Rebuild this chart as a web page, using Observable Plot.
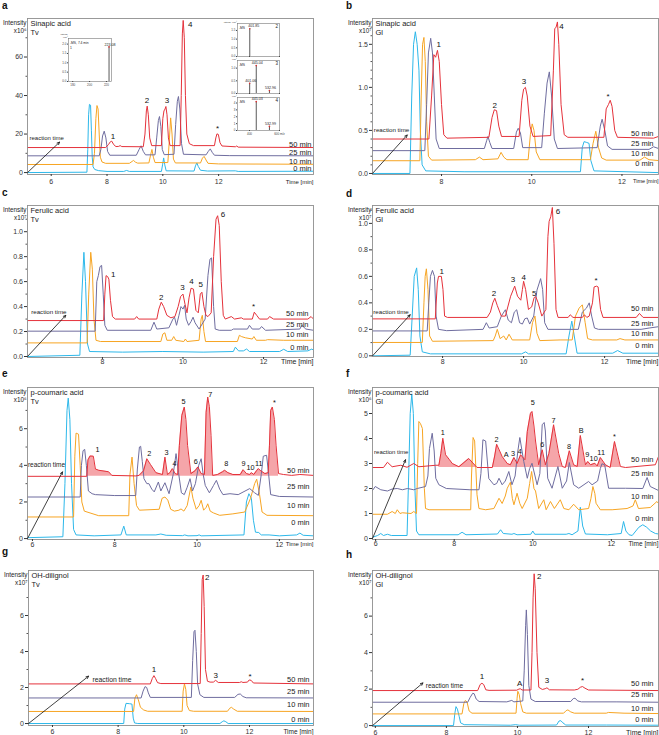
<!DOCTYPE html>
<html><head><meta charset="utf-8">
<script src="https://cdn.jsdelivr.net/npm/d3@7"></script>
<script src="https://cdn.jsdelivr.net/npm/@observablehq/plot@0.6"></script>
<style>
body{margin:0;background:#fff;}
#root{position:relative;width:659px;height:735px;overflow:hidden;font-family:"Liberation Sans",Arial,Helvetica,sans-serif;background:#fff;}
#root svg{position:absolute;}
.lt{position:absolute;font-weight:bold;font-size:10px;line-height:10px;color:#111;}
</style></head><body><div id="root"></div>
<script>
// ---------- DATA (time [min], intensity) flat pairs ----------
// Panel a: Sinapic acid, Tv (x10^6)
const aCyan = [5.15,0, 7.28,0.2, 7.31,12, 7.34,30, 7.37,35.4, 7.41,35, 7.44,22, 7.47,8, 7.5,3, 7.56,1.6, 7.7,1, 8.0,0.6, 8.6,0.6, 8.7,1.1, 8.8,0.6, 9.95,0.6, 9.99,4, 10.03,7.6, 10.07,4, 10.12,0.9, 11.12,0.8, 11.17,3.5, 11.22,5.0, 11.27,3.2, 11.35,1.2, 11.6,0.8, 12.6,0.9, 12.7,0.6, 15.4,0.7];
const aOrange = [5.15,4.2, 7.5,4.2, 7.55,10, 7.6,28, 7.64,34.8, 7.68,33, 7.72,20, 7.76,8, 7.82,5.5, 7.95,4.8, 8.8,4.8, 8.9,5.8, 8.95,6.3, 9.02,5.4, 9.1,4.9, 9.5,5, 9.56,9, 9.61,12, 9.66,8, 9.72,5.2, 10.18,5.2, 10.23,16, 10.28,28.4, 10.33,20, 10.38,7, 10.45,5, 11.35,5, 11.42,7.5, 11.48,8.4, 11.55,6.5, 11.62,4.8, 12.0,4.5, 15.4,4.3];
const aPurple = [5.15,8.7, 7.72,8.7, 7.78,12, 7.84,19, 7.9,21.5, 7.96,18, 8.02,11, 8.1,9, 9.05,9, 9.15,12, 9.22,13.9, 9.3,11, 9.38,9.2, 9.72,9.2, 9.78,18, 9.84,27, 9.88,29.1, 9.93,24, 9.98,12, 10.05,9.3, 10.4,9.5, 10.46,25, 10.52,37, 10.56,39.5, 10.61,33, 10.67,15, 10.74,9.5, 11.55,9.2, 11.63,11, 11.7,12.3, 11.77,10.5, 11.85,9, 12.4,8.8, 15.4,8.7];
const aRed = [5.15,13, 7.95,13, 8.05,14.5, 8.12,16, 8.17,16.3, 8.24,14.5, 8.32,13.5, 8.42,13.6, 8.47,14, 8.53,13.5, 9.3,13.4, 9.36,20, 9.41,32, 9.44,34.5, 9.48,30, 9.53,18, 9.6,14, 9.95,14, 10.0,28, 10.04,32, 10.08,33, 10.11,34.3, 10.15,30, 10.2,18, 10.26,14, 10.62,14, 10.66,40, 10.7,72, 10.73,79, 10.77,70, 10.81,40, 10.86,20, 10.95,15, 11.1,14, 11.85,14, 11.9,18, 11.94,20.1, 11.99,19.8, 12.05,15.5, 12.12,13.8, 12.6,13.4, 12.65,13.8, 12.7,13.2, 15.4,13];
const aPeaks = [["1",8.21,18.7],["2",9.43,37.4],["3",10.15,37.4],["4",10.98,77],["*",11.96,22.7]];
const aLabelY = [14.4, 10.2, 5.9, 1.9];

// Panel b: Sinapic acid, Gl (x10^7)
const bCyan = [6.47,0, 7.3,0, 7.34,0.9, 7.38,1.5, 7.42,1.646, 7.46,1.5, 7.5,1.2, 7.53,0.5, 7.57,0.1, 7.65,0.03, 8.5,0.02, 11.08,0.02, 11.12,0.3, 11.16,0.37, 11.22,0.36, 11.27,0.35, 11.31,0.15, 11.38,0.03, 12.81,0.01];
const bOrange = [6.47,0.148, 7.52,0.148, 7.55,0.9, 7.58,1.5, 7.61,1.58, 7.64,1.3, 7.67,0.6, 7.71,0.2, 7.78,0.155, 8.75,0.16, 8.84,0.19, 8.92,0.16, 9.25,0.17, 9.32,0.245, 9.38,0.19, 9.45,0.16, 9.92,0.16, 9.97,0.45, 10.01,0.576, 10.05,0.5, 10.1,0.25, 10.18,0.16, 11.3,0.16, 11.36,0.35, 11.42,0.49, 11.48,0.3, 11.55,0.18, 11.65,0.155, 12.4,0.155, 12.5,0.19, 12.6,0.16, 12.81,0.15];
const bPurple = [6.47,0.265, 7.63,0.265, 7.67,0.8, 7.71,1.4, 7.76,1.57, 7.8,1.4, 7.84,0.9, 7.88,0.4, 7.95,0.29, 8.95,0.29, 9.0,0.38, 9.03,0.43, 9.07,0.36, 9.12,0.29, 9.6,0.29, 9.66,0.48, 9.7,0.525, 9.75,0.47, 9.8,0.3, 10.22,0.3, 10.28,0.7, 10.34,1.05, 10.39,1.18, 10.44,0.9, 10.5,0.4, 10.57,0.29, 11.45,0.3, 11.52,0.55, 11.56,0.63, 11.62,0.5, 11.68,0.32, 11.78,0.28, 12.6,0.28, 12.7,0.31, 12.81,0.29];
const bRed = [6.47,0.4, 7.72,0.4, 7.78,0.9, 7.83,1.38, 7.87,1.35, 7.91,1.43, 7.95,1.3, 8.0,0.8, 8.05,0.45, 8.12,0.41, 9.05,0.42, 9.12,0.65, 9.17,0.74, 9.22,0.73, 9.27,0.55, 9.33,0.43, 9.72,0.43, 9.78,0.85, 9.82,0.98, 9.86,1.0, 9.9,0.9, 9.96,0.55, 10.03,0.43, 10.42,0.44, 10.48,1.2, 10.51,1.68, 10.54,1.7, 10.57,1.76, 10.6,1.5, 10.65,0.8, 10.72,0.45, 10.8,0.42, 11.6,0.42, 11.65,0.75, 11.7,0.8, 11.74,0.85, 11.78,0.78, 11.84,0.5, 11.9,0.42, 12.7,0.41, 12.81,0.43];
const bPeaks = [["1",7.94,1.5],["2",9.18,0.79],["3",9.83,1.07],["4",10.66,1.71],["*",11.69,0.89]];
const bLabelY = [0.467, 0.342, 0.233, 0.109];

// Panel c: Ferulic acid, Tv (x10^7)
const cCyan = [6.14,0, 7.44,0.01, 7.49,0.5, 7.54,0.835, 7.58,0.6, 7.63,0.1, 7.68,0.04, 8.5,0.035, 9.5,0.04, 10.5,0.035, 11.25,0.04, 11.3,0.075, 11.38,0.045, 11.5,0.045, 11.58,0.06, 11.65,0.04, 12.4,0.04, 12.5,0.058, 12.6,0.04, 13.1,0.045, 13.2,0.06, 13.24,0.05];
const cOrange = [6.14,0.109, 7.62,0.109, 7.66,0.5, 7.71,0.835, 7.75,0.7, 7.79,0.3, 7.84,0.13, 7.95,0.12, 9.45,0.12, 9.5,0.18, 9.55,0.19, 9.6,0.13, 9.72,0.13, 9.77,0.16, 9.82,0.13, 10.02,0.12, 10.06,0.14, 10.1,0.12, 10.4,0.13, 10.45,0.3, 10.48,0.33, 10.52,0.2, 10.56,0.12, 11.35,0.12, 11.4,0.17, 11.45,0.16, 11.55,0.15, 11.72,0.14, 11.76,0.16, 11.82,0.13, 12.05,0.13, 12.1,0.135, 12.5,0.13, 12.7,0.13, 13.24,0.13];
const cPurple = [6.14,0.203, 7.82,0.203, 7.86,0.6, 7.9,0.65, 7.94,0.72, 7.98,0.73, 8.02,0.5, 8.06,0.25, 8.12,0.21, 9.2,0.21, 9.28,0.275, 9.35,0.22, 9.65,0.23, 9.75,0.3, 9.79,0.315, 9.84,0.25, 9.9,0.33, 9.95,0.4, 10.0,0.38, 10.04,0.41, 10.08,0.3, 10.14,0.25, 10.2,0.28, 10.25,0.315, 10.3,0.27, 10.4,0.22, 10.55,0.3, 10.62,0.65, 10.67,0.78, 10.71,0.79, 10.76,0.4, 10.8,0.22, 10.9,0.21, 11.2,0.21, 11.25,0.22, 11.6,0.22, 11.65,0.25, 11.72,0.22, 11.9,0.22, 11.95,0.24, 12.05,0.21, 12.9,0.22, 12.95,0.25, 13.05,0.22, 13.24,0.21];
const cRed = [6.14,0.288, 8.03,0.288, 8.06,0.5, 8.09,0.648, 8.13,0.64, 8.16,0.62, 8.2,0.45, 8.25,0.32, 8.32,0.3, 8.8,0.3, 8.85,0.32, 8.9,0.3, 9.35,0.3, 9.4,0.38, 9.46,0.435, 9.52,0.4, 9.6,0.33, 9.7,0.31, 9.8,0.32, 9.88,0.4, 9.94,0.48, 10.0,0.5, 10.05,0.42, 10.1,0.35, 10.15,0.47, 10.2,0.547, 10.26,0.54, 10.32,0.37, 10.38,0.35, 10.43,0.5, 10.47,0.515, 10.52,0.4, 10.57,0.33, 10.62,0.32, 10.7,0.35, 10.76,0.8, 10.82,1.1, 10.86,1.128, 10.9,1.05, 10.95,0.6, 11.0,0.33, 11.05,0.3, 11.2,0.32, 11.28,0.3, 11.45,0.31, 11.5,0.3, 11.72,0.3, 11.77,0.355, 11.83,0.33, 11.9,0.3, 12.1,0.3, 12.15,0.32, 12.25,0.3, 13.1,0.3, 13.18,0.32, 13.24,0.3];
const cPeaks = [["1",8.27,0.656],["2",9.46,0.475],["3",9.99,0.55],["4",10.21,0.6],["5",10.44,0.576],["6",10.99,1.14],["*",11.75,0.4]];
const cLabelY = [0.347, 0.256, 0.176, 0.075];

// Panel d: Ferulic acid, Gl (x10^7)
const dCyan = [6.27,0, 7.2,0.005, 7.25,0.3, 7.3,0.6, 7.36,0.664, 7.4,0.5, 7.44,0.15, 7.5,0.03, 7.7,0.015, 9.95,0.015, 10.05,0.03, 10.12,0.015, 11.05,0.015, 11.12,0.15, 11.19,0.262, 11.25,0.15, 11.32,0.02, 12.2,0.02, 12.32,0.04, 12.45,0.02, 13.33,0.02];
const dOrange = [6.27,0.101, 7.5,0.101, 7.54,0.4, 7.57,0.6, 7.6,0.657, 7.64,0.5, 7.68,0.15, 7.75,0.11, 9.25,0.115, 9.3,0.15, 9.35,0.2, 9.42,0.13, 9.51,0.15, 9.57,0.12, 9.64,0.163, 9.72,0.12, 10.15,0.12, 10.22,0.25, 10.28,0.3, 10.33,0.17, 10.4,0.115, 10.9,0.12, 11.2,0.12, 11.28,0.3, 11.37,0.36, 11.45,0.385, 11.52,0.25, 11.58,0.13, 11.7,0.12, 12.3,0.12, 12.38,0.13, 12.5,0.12, 13.33,0.12];
const dPurple = [6.27,0.188, 7.62,0.188, 7.66,0.4, 7.7,0.6, 7.75,0.645, 7.8,0.6, 7.84,0.3, 7.9,0.2, 8.1,0.19, 9.0,0.2, 9.08,0.25, 9.15,0.21, 9.35,0.22, 9.45,0.3, 9.55,0.348, 9.62,0.27, 9.7,0.25, 9.77,0.33, 9.83,0.348, 9.9,0.25, 9.97,0.24, 10.03,0.28, 10.09,0.286, 10.15,0.24, 10.25,0.3, 10.33,0.496, 10.42,0.583, 10.47,0.5, 10.52,0.25, 10.6,0.2, 11.35,0.2, 11.45,0.33, 11.55,0.36, 11.62,0.4, 11.68,0.3, 11.75,0.21, 11.85,0.2, 12.9,0.2, 13.1,0.21, 13.33,0.22];
const dRed = [6.27,0.279, 7.82,0.279, 7.87,0.55, 7.9,0.6, 7.97,0.6, 8.01,0.5, 8.05,0.3, 8.12,0.29, 9.1,0.29, 9.18,0.33, 9.24,0.4, 9.29,0.435, 9.35,0.38, 9.45,0.3, 9.55,0.3, 9.68,0.45, 9.78,0.526, 9.85,0.45, 9.93,0.42, 9.97,0.5, 10.0,0.563, 10.05,0.5, 10.12,0.35, 10.2,0.37, 10.26,0.44, 10.3,0.447, 10.36,0.4, 10.45,0.3, 10.55,0.35, 10.6,0.9, 10.63,1.015, 10.67,1.05, 10.71,1.12, 10.75,0.85, 10.8,0.35, 10.85,0.29, 11.1,0.29, 11.15,0.31, 11.22,0.29, 11.45,0.29, 11.5,0.31, 11.56,0.29, 11.62,0.3, 11.7,0.4, 11.74,0.52, 11.8,0.526, 11.84,0.52, 11.9,0.35, 11.96,0.29, 12.78,0.29, 12.86,0.32, 12.95,0.29, 13.33,0.29];
const dPeaks = [["1",7.98,0.64],["2",9.27,0.47],["3",9.74,0.575],["4",10.0,0.595],["5",10.26,0.47],["6",10.85,1.09],["*",11.79,0.57]];
const dLabelY = [0.353, 0.242, 0.168, 0.077];

// Panel e: p-coumaric acid, Tv (x10^6)
const eCyan = [5.88,0.05, 6.74,0.1, 6.79,3, 6.84,7, 6.87,7.67, 6.91,6.5, 6.95,3, 7.0,0.5, 7.06,0.2, 7.5,0.15, 8.15,0.2, 8.22,0.68, 8.28,0.2, 9.0,0.2, 9.12,0.25, 9.25,0.18, 9.65,0.16, 9.7,0.2, 9.78,0.15, 10.0,0.16, 10.05,0.2, 10.1,0.15, 11.14,0.2, 11.2,2.0, 11.26,2.45, 11.32,2.2, 11.37,1.0, 11.42,0.35, 11.5,0.33, 11.56,0.2, 11.75,0.2, 12.0,0.15, 12.42,0.2, 12.5,0.3, 12.58,0.18, 12.83,0.15];
const eOrange = [5.88,1.18, 7.0,1.18, 7.03,4.5, 7.06,5.76, 7.12,5.7, 7.16,4, 7.2,2, 7.26,1.5, 7.4,1.4, 7.61,1.25, 8.34,1.25, 8.37,3.5, 8.42,4.45, 8.47,3, 8.53,1.8, 8.6,1.55, 9.08,1.6, 9.15,2.2, 9.22,2.27, 9.29,2.1, 9.36,1.6, 9.45,1.5, 9.56,1.55, 9.61,1.62, 9.68,1.5, 9.76,1.8, 9.85,2.82, 9.9,2.2, 9.98,1.6, 10.05,1.8, 10.1,2.09, 10.16,1.55, 10.22,1.7, 10.26,1.9, 10.32,1.5, 10.4,1.4, 10.55,1.27, 10.87,1.35, 11.16,1.45, 11.3,2.2, 11.4,3.0, 11.45,3.24, 11.52,2.4, 11.58,1.45, 11.7,1.27, 12.83,1.25];
const ePurple = [5.88,2.27, 7.16,2.27, 7.19,4.0, 7.23,4.8, 7.27,4.87, 7.31,4.0, 7.36,2.6, 7.45,2.45, 7.53,2.4, 8.0,2.35, 8.51,2.35, 8.55,3.8, 8.6,5.0, 8.63,5.04, 8.67,4.2, 8.71,3.27, 8.78,3.0, 8.83,3.0, 8.9,2.7, 8.96,2.55, 9.06,3.09, 9.12,2.6, 9.22,3.05, 9.32,2.45, 9.42,3.5, 9.49,4.64, 9.55,3.6, 9.62,2.5, 9.69,2.4, 9.76,2.8, 9.83,3.27, 9.89,2.6, 9.96,3.0, 10.04,4.0, 10.1,4.36, 10.15,3.5, 10.2,2.9, 10.3,2.5, 10.4,2.9, 10.47,3.18, 10.55,2.7, 10.63,2.4, 10.8,2.45, 11.0,2.4, 11.28,2.73, 11.4,2.5, 11.49,2.36, 11.56,3.5, 11.61,4.5, 11.69,4.55, 11.74,3.5, 11.79,2.4, 12.0,2.3, 12.83,2.27];
const eRed = [5.88,3.4, 7.32,3.4, 7.35,4.3, 7.4,4.51, 7.48,4.5, 7.53,3.8, 7.61,3.73, 7.85,3.65, 7.93,3.45, 8.51,3.42, 8.59,3.45, 8.7,3.7, 8.78,4.36, 8.87,4.04, 9.0,3.6, 9.16,3.5, 9.22,4.45, 9.28,3.5, 9.34,3.6, 9.4,3.82, 9.47,3.55, 9.53,3.5, 9.57,5.09, 9.63,6.73, 9.69,7.18, 9.73,6.5, 9.77,5.09, 9.85,3.55, 9.95,3.7, 10.02,3.91, 10.1,3.55, 10.18,3.5, 10.22,6.9, 10.26,7.73, 10.3,7.2, 10.34,5.64, 10.38,3.45, 10.5,3.5, 10.62,3.65, 10.67,3.73, 10.75,3.6, 10.87,3.5, 11.05,3.5, 11.12,3.76, 11.2,3.55, 11.28,3.5, 11.32,3.6, 11.38,3.5, 11.45,3.72, 11.49,3.82, 11.55,3.7, 11.65,3.55, 11.73,3.6, 11.76,5.1, 11.79,7.0, 11.83,7.18, 11.88,6.5, 11.92,5.1, 11.98,3.55, 12.1,3.5, 12.3,3.45, 12.5,3.5, 12.83,3.45];
const ePeaks = [["1",7.58,4.85],["2",8.84,4.64],["3",9.26,4.69],["4",9.45,4.09],["5",9.67,7.45],["6",9.97,4.22],["7",10.32,7.85],["8",10.71,4.09],["9",11.13,4.09],["10",11.3,3.85],["11",11.5,4.09],["*",11.88,7.42]];
const eLabelY = [3.73, 2.82, 1.78, 0.85];
const eFill = [7.32, 12.0, 3.4];

// Panel f: p-coumaric acid, Gl (x10^6)
const fCyan = [5.92,0.05, 6.05,0.12, 6.13,0.2, 6.2,0.12, 6.3,0.17, 6.4,0.12, 6.8,0.12, 6.84,2.5, 6.88,5.0, 6.92,5.77, 6.96,5.0, 7.0,2.0, 7.04,0.3, 7.1,0.15, 8.1,0.15, 8.2,0.25, 8.3,0.15, 9.1,0.18, 9.18,0.35, 9.25,0.2, 9.47,0.17, 9.52,0.2, 9.6,0.15, 9.95,0.17, 10.0,0.3, 10.05,0.17, 10.85,0.17, 10.92,0.2, 11.0,0.15, 11.15,0.3, 11.21,1.25, 11.27,0.5, 11.34,0.18, 11.9,0.15, 12.25,0.2, 12.31,0.68, 12.37,0.3, 12.45,0.15, 12.53,0.12, 12.7,0.45, 12.8,0.55, 12.9,0.45, 13.0,0.3, 13.12,0.2, 13.2,0.18];
const fOrange = [5.92,0.97, 6.3,0.97, 6.42,1.08, 6.5,1.0, 6.55,1.15, 6.62,1.0, 6.68,1.03, 6.9,1.0, 6.97,1.08, 7.04,1.0, 7.07,3.0, 7.1,4.68, 7.14,4.6, 7.19,4.4, 7.24,2.0, 7.27,1.2, 7.36,1.15, 8.42,1.15, 8.44,2.5, 8.48,4.04, 8.52,3.9, 8.58,1.75, 8.63,1.2, 8.8,1.15, 9.01,1.2, 9.14,1.61, 9.22,1.4, 9.3,1.7, 9.35,2.01, 9.43,2.25, 9.48,1.6, 9.52,1.35, 9.6,1.81, 9.67,1.4, 9.73,1.2, 9.86,1.61, 9.92,2.2, 9.97,2.68, 10.03,2.0, 10.07,1.9, 10.15,1.2, 10.28,1.55, 10.34,1.15, 10.45,1.48, 10.55,1.2, 10.7,1.55, 10.79,1.2, 10.92,1.15, 11.04,1.37, 11.17,1.15, 11.42,1.2, 11.48,1.6, 11.53,2.08, 11.58,1.8, 11.61,1.41, 11.72,1.15, 12.02,1.15, 12.4,1.2, 12.55,1.3, 12.61,1.55, 12.69,1.2, 12.99,1.24, 13.16,1.48, 13.2,1.4];
const fPurple = [5.92,1.92, 5.99,2.08, 6.13,1.95, 6.3,1.9, 6.42,1.98, 6.55,2.0, 6.68,1.95, 6.81,2.0, 6.97,1.95, 7.06,2.0, 7.27,2.08, 7.33,2.5, 7.37,3.6, 7.44,4.21, 7.49,3.5, 7.53,2.41, 7.61,2.15, 7.8,2.0, 8.4,1.95, 8.63,1.95, 8.68,2.6, 8.73,3.95, 8.8,3.9, 8.88,2.4, 9.01,2.15, 9.08,2.2, 9.14,2.41, 9.22,2.15, 9.3,2.3, 9.39,2.68, 9.47,2.15, 9.55,2.5, 9.62,3.5, 9.67,4.04, 9.77,3.08, 9.86,2.41, 9.92,2.8, 9.98,3.01, 10.11,2.15, 10.18,2.6, 10.24,4.55, 10.29,4.64, 10.32,4.3, 10.38,2.41, 10.49,2.01, 10.64,2.88, 10.75,2.01, 10.86,2.3, 10.93,3.04, 11.04,2.15, 11.17,2.01, 11.42,2.28, 11.51,2.15, 11.65,2.3, 11.72,2.8, 11.76,2.99, 11.83,2.95, 11.93,2.01, 12.36,2.01, 12.8,2.0, 12.91,2.44, 12.99,2.08, 13.2,1.92];
const fRed = [5.92,2.84, 6.2,2.84, 6.3,3.05, 6.42,2.87, 6.64,2.93, 6.8,2.85, 6.97,3.0, 7.1,2.87, 7.53,2.93, 7.61,2.93, 7.66,3.4, 7.71,4.01, 7.78,3.35, 7.88,3.15, 7.95,3.0, 8.12,2.87, 8.37,3.2, 8.58,2.84, 8.97,2.84, 9.03,3.3, 9.08,3.77, 9.22,3.28, 9.28,3.15, 9.35,3.0, 9.43,2.95, 9.52,3.24, 9.6,3.0, 9.69,3.35, 9.8,3.15, 9.86,4.28, 9.94,5.0, 9.98,5.08, 10.03,4.5, 10.07,3.9, 10.15,2.95, 10.24,3.55, 10.32,2.95, 10.41,3.4, 10.53,4.55, 10.66,3.4, 10.75,2.88, 10.83,2.84, 10.93,3.51, 11.04,2.95, 11.13,2.88, 11.21,4.12, 11.34,2.95, 11.4,3.08, 11.47,2.95, 11.58,3.01, 11.64,2.9, 11.72,3.24, 11.85,2.95, 11.97,2.84, 12.08,3.88, 12.23,2.88, 12.36,2.84, 13.12,2.95, 13.2,3.28];
const fPeaks = [["1",7.71,4.25],["2",9.08,3.96],["A",9.32,3.36],["3",9.5,3.41],["4",9.67,3.48],["5",10.0,5.45],["6",10.24,3.75],["7",10.53,4.72],["8",10.92,3.69],["B",11.23,4.32],["9",11.39,3.35],["10",11.55,3.21],["11",11.74,3.45],["*",12.08,4.08]];
const fLabelY = [3.17, 2.61, 1.68, 0.79];
const fFill = [7.61, 12.3, 2.84];

// Panel g: OH-dilignol, Tv (x10^7)
const gCyan = [5.27,0, 8.17,0, 8.2,0.8, 8.24,1.12, 8.35,1.1, 8.42,1.08, 8.46,0.3, 8.5,0.03, 8.6,0, 11.1,0, 11.17,0.1, 11.22,0.15, 11.28,0.1, 11.35,0, 13.95,0];
const gOrange = [5.27,0.67, 8.47,0.67, 8.51,1.4, 8.56,1.6, 8.61,1.35, 8.68,0.9, 8.78,0.75, 8.9,0.68, 9.95,0.68, 9.98,1.8, 10.02,2.2, 10.06,1.9, 10.1,1.0, 10.17,0.72, 10.3,0.68, 11.33,0.68, 11.4,0.85, 11.45,0.9, 11.52,0.8, 11.63,0.68, 13.95,0.67];
const gPurple = [5.27,1.42, 8.7,1.42, 8.76,1.8, 8.82,2.05, 8.87,2.0, 8.92,1.7, 8.98,1.45, 10.23,1.45, 10.27,3.5, 10.31,5.1, 10.34,5.18, 10.38,4.0, 10.42,2.2, 10.49,1.6, 10.61,1.45, 11.55,1.45, 11.65,1.62, 11.72,1.64, 11.8,1.5, 11.9,1.43, 13.95,1.42];
const gRed = [5.27,2.2, 8.98,2.2, 9.04,2.5, 9.09,2.66, 9.14,2.5, 9.2,2.27, 9.3,2.22, 10.5,2.22, 10.53,5.0, 10.56,8.0, 10.59,8.25, 10.62,6.5, 10.66,3.0, 10.72,2.35, 10.8,2.3, 10.9,2.3, 10.97,2.4, 11.05,2.28, 11.7,2.28, 11.75,2.32, 11.8,2.28, 11.94,2.3, 11.99,2.42, 12.05,2.4, 12.12,2.25, 13.95,2.2];
const gPeaks = [["1",9.09,2.98],["2",10.71,8.12],["3",10.97,2.66],["*",12.02,2.64]];
const gLabelY = [2.42, 1.79, 1.04, 0.24];

// Panel h: OH-dilignol, Gl (x10^7)
const hCyan = [5.92,0, 8.2,0, 8.24,0.7, 8.27,1.04, 8.31,0.9, 8.36,0.5, 8.4,0.15, 8.5,0.05, 9.8,0.02, 9.95,0.05, 10.05,0.02, 11.1,0.03, 11.17,0.25, 11.22,0.27, 11.28,0.15, 11.36,0.03, 12.5,0.03, 13.97,0.02];
const hOrange = [5.92,0.64, 8.44,0.64, 8.49,1.2, 8.53,1.37, 8.58,1.3, 8.64,0.8, 8.72,0.68, 9.96,0.68, 9.99,1.5, 10.01,1.88, 10.05,1.7, 10.09,1.2, 10.15,0.75, 10.25,0.68, 11.3,0.68, 11.37,0.82, 11.42,0.86, 11.5,0.75, 11.6,0.68, 12.5,0.68, 12.56,0.72, 13.0,0.68, 13.97,0.66];
const hPurple = [5.92,1.28, 8.6,1.28, 8.67,1.55, 8.74,1.77, 8.78,1.75, 8.84,1.45, 8.92,1.32, 9.7,1.3, 9.84,1.38, 9.9,1.3, 10.15,1.35, 10.19,3.0, 10.23,5.5, 10.25,6.34, 10.28,5.0, 10.32,2.2, 10.38,1.45, 10.5,1.32, 11.5,1.32, 11.57,1.48, 11.62,1.5, 11.7,1.35, 11.8,1.3, 12.8,1.3, 13.97,1.28];
const hRed = [5.92,1.92, 8.88,1.92, 8.95,2.25, 9.0,2.32, 9.05,2.25, 9.11,1.96, 9.2,1.93, 9.98,1.94, 10.04,2.0, 10.08,2.02, 10.13,1.95, 10.38,1.95, 10.41,4.0, 10.44,7.0, 10.47,8.32, 10.5,7.5, 10.55,4.0, 10.6,2.1, 10.7,1.98, 10.78,2.02, 10.83,2.07, 10.9,1.96, 11.6,1.95, 11.7,1.99, 11.77,2.1, 11.83,2.14, 11.9,2.05, 12.0,1.95, 13.97,1.92];
const hPeaks = [["1",9.0,2.69],["A",10.06,2.32],["2",10.61,8.17],["3",10.83,2.5],["*",11.83,2.47]];
const hLabelY = [2.29, 1.68, 0.95, 0.31];

// reaction-time arrows [x1,y1,x2,y2] and text anchors [x,y]
const arrows = {a:[5.15,0,6.30,15.8], b:[6.47,0,7.24,0.447], c:[6.14,0,7.09,0.33], d:[6.27,0,7.2,0.31], e:[5.88,0,6.73,3.64], f:[5.92,0,6.76,3.15], g:[5.27,0,7.1,2.63], h:[5.92,0,7.34,2.34]};
const rtText = {a:[5.22,17.9], b:[6.5,0.5], c:[6.23,0.355], d:[6.29,0.33], e:[5.89,4.0], f:[5.96,3.45], g:[7.22,2.42], h:[7.42,2.19]};

const traceNames = ["50 min","25 min","10 min","0 min"];
const compound = {a:"Sinapic acid\nTv", b:"Sinapic acid\nGl", c:"Ferulic acid\nTv", d:"Ferulic acid\nGl", e:"p-coumaric acid\nTv", f:"p-coumaric acid\nGl", g:"OH-dilignol\nTv", h:"OH-dilignol\nGl"};
const expo = {a:"⁶", b:"⁷", c:"⁷", d:"⁷", e:"⁶", f:"⁶", g:"⁷", h:"⁷"};

// y / x tick values
const yTicks = {a:[0,20,40,60], b:[0,0.5,1.0,1.5], c:[0,0.2,0.4,0.6,0.8,1.0], d:[0,0.2,0.4,0.6,0.8,1.0], e:[0,2,4,6], f:[0,1,2,3,4,5], g:[0,2,4,6], h:[0,2,4,6]};
const yMinor = {b:[0.1,0.2,0.3,0.4,0.6,0.7,0.8,0.9,1.1,1.2,1.3,1.4,1.6,1.7], d:[0.1,0.3,0.5,0.7,0.9,1.1], e:[1,3,5,7], f:[], a:[10,30,50,70], c:[0.1,0.3,0.5,0.7,0.9,1.1], g:[1,3,5,7], h:[1,3,5,7]};
const xTicks = {a:[6,8,10,12], b:[8,10,12], c:[8,10,12], d:[8,10,12], e:[6,8,10,12], f:[6,8,10,12], g:[6,8,10,12], h:[6,8,10,12]};

// mass-spectra insets (panel a): [m/z, intensity]
const msPeak1 = [[223.08, 1.85]];
const msPeak2 = [[401.85, 1.6]];
const msPeak3 = [[401.06, 0.4],[445.04, 1.1],[532.96, 0.12]];
const msPeak4 = [[445.03, 4.2],[532.99, 0.6]];

// ---------- RENDERING ----------
const COLORS = ["#2db8ea","#f7a523","#6f6d9f","#e5323b"];
const FILL = "#f5a5a9";
const FONT = "'Liberation Sans', Arial, Helvetica, sans-serif";
const pts = a => { const o = []; for (let i = 0; i < a.length; i += 2) o.push({x: a[i], y: a[i+1]}); return o; };
const root = document.getElementById("root");

const layout = {
  a:{left:0,  top:0,   w:330, h:190, ml:27, mr:17, mt:18, mb:16, xd:[5.15,15.4], yd:[-1,80],      yf:d=>d,               xpad:3,   tdx:-2, tfs:6,   rfs:6,   pfs:8},
  b:{left:330,top:0,   w:329, h:190, ml:42, mr:1,  mt:18, mb:16, xd:[6.47,12.81],yd:[-0.012,1.80], yf:d3.format(".1f"),  xpad:3,   tdx:-5, tfs:5.5, rfs:6.2, pfs:8},
  c:{left:0,  top:190, w:330, h:180, ml:27, mr:17, mt:15, mb:13, xd:[6.14,13.24],yd:[-0.008,1.21], yf:d3.format(".1f"),  xpad:0,   tdx:-5, tfs:7,   rfs:6.2, pfs:8},
  d:{left:330,top:190, w:329, h:180, ml:42, mr:1,  mt:15, mb:14, xd:[6.27,13.33],yd:[-0.005,1.135],yf:d3.format(".1f"),  xpad:0.5, tdx:-5, tfs:7,   rfs:6.2, pfs:8},
  e:{left:0,  top:370, w:330, h:180, ml:27, mr:17, mt:17, mb:11, xd:[5.88,12.83],yd:[-0.05,8.25],  yf:d=>d,               xpad:0.5, tdx:-4, tfs:6,   rfs:6.5, pfs:7.3},
  f:{left:330,top:370, w:329, h:180, ml:42, mr:1,  mt:17, mb:11, xd:[5.92,13.2], yd:[-0.04,6.04],  yf:d=>d,               xpad:0,   tdx:-5, tfs:6.5, rfs:6,   pfs:7.3},
  g:{left:0,  top:550, w:330, h:185, ml:28, mr:17, mt:20, mb:10, xd:[5.27,13.95],yd:[-0.11,8.5],   yf:d=>d,               xpad:2,   tdx:-4, tfs:6.5, rfs:6.8, pfs:8},
  h:{left:330,top:550, w:329, h:185, ml:42, mr:1,  mt:20, mb:9,  xd:[5.92,13.97],yd:[-0.05,8.5],   yf:d=>d,               xpad:2,   tdx:-5, tfs:7,   rfs:6.5, pfs:8}
};
const panelData = {
  a:{traces:[aCyan,aOrange,aPurple,aRed], peaks:aPeaks, ly:aLabelY},
  b:{traces:[bCyan,bOrange,bPurple,bRed], peaks:bPeaks, ly:bLabelY},
  c:{traces:[cCyan,cOrange,cPurple,cRed], peaks:cPeaks, ly:cLabelY},
  d:{traces:[dCyan,dOrange,dPurple,dRed], peaks:dPeaks, ly:dLabelY},
  e:{traces:[eCyan,eOrange,ePurple,eRed], peaks:ePeaks, ly:eLabelY, fill:eFill},
  f:{traces:[fCyan,fOrange,fPurple,fRed], peaks:fPeaks, ly:fLabelY, fill:fFill},
  g:{traces:[gCyan,gOrange,gPurple,gRed], peaks:gPeaks, ly:gLabelY},
  h:{traces:[hCyan,hOrange,hPurple,hRed], peaks:hPeaks, ly:hLabelY}
};

function panel(key) {
  const L = layout[key], D = panelData[key];
  const xMax = L.xd[1];
  const marks = [];
  if (D.fill) {
    const f = pts(D.traces[3]).filter(p => p.x >= D.fill[0] && p.x <= D.fill[1]);
    marks.push(Plot.areaY(f, {x:"x", y1: () => D.fill[2], y2:"y", fill: FILL}));
  }
  D.traces.forEach((t, i) => marks.push(Plot.line(pts(t), {x:"x", y:"y", stroke: COLORS[i], strokeWidth: 1, clip: true})));
  marks.push(Plot.frame({stroke:"#8f8f8f", strokeWidth: 0.9}));
  marks.push(Plot.axisY(yTicks[key], {tickSize: 3, tickPadding: 1.5, tickFormat: L.yf, fontSize: 7, color: "#333", label: null}));
  if (yMinor[key] && yMinor[key].length) marks.push(Plot.axisY(yMinor[key], {tickSize: 1.5, tickFormat: () => "", color: "#555", label: null}));
  marks.push(Plot.axisX(xTicks[key], {tickSize: 2, tickPadding: L.xpad, tickFormat: d => d, fontSize: 7, color: "#333", label: null}));
  marks.push(Plot.text(["Time [min]"], {frameAnchor: "bottom-right", text: d => d, textAnchor: "end", lineAnchor: "top", dy: 2 + L.xpad, fontSize: L.tfs, fill: "#222"}));
  marks.push(Plot.text(["Intensity"], {frameAnchor: "top-left", text: d => d, textAnchor: "end", dx: -1, dy: 2.5, fontSize: 6.3, fill: "#222"}));
  marks.push(Plot.text(["x10" + expo[key]], {frameAnchor: "top-left", text: d => d, textAnchor: "end", dx: -1, dy: 9.8, fontSize: 6.3, fill: "#222"}));
  marks.push(Plot.text([compound[key]], {frameAnchor: "top-left", text: d => d, lineAnchor: "top", dx: 3, dy: 1.5, fontSize: 7.5, lineHeight: 1.15, fill: "#222"}));
  marks.push(Plot.arrow([arrows[key]], {x1: d => d[0], y1: d => d[1], x2: d => d[2], y2: d => d[3], stroke: "#111", strokeWidth: 0.8, headLength: 5, headAngle: 50}));
  marks.push(Plot.text([rtText[key]], {x: d => d[0], y: d => d[1], text: () => "reaction time", textAnchor: "start", fontSize: L.rfs, fill: "#222"}));
  marks.push(Plot.text(D.ly.map((y, i) => ({y, t: traceNames[i]})), {x: () => xMax, y: "y", text: "t", textAnchor: "end", dx: L.tdx, fontSize: 7.5, fill: "#222"}));
  marks.push(Plot.text(D.peaks, {x: d => d[1], y: d => d[2], text: d => d[0], fontSize: L.pfs, fill: "#111"}));
  const svg = Plot.plot({
    width: L.w, height: L.h,
    marginLeft: L.ml, marginRight: L.mr, marginTop: L.mt, marginBottom: L.mb,
    x: {domain: L.xd, label: null}, y: {domain: L.yd, label: null},
    style: {fontFamily: FONT, fontSize: "7px", overflow: "visible", background: "transparent", color: "#222"},
    marks
  });
  svg.style.left = L.left + "px"; svg.style.top = L.top + "px";
  root.appendChild(svg);
}
["a","b","c","d","e","f","g","h"].forEach(panel);

// insets
function inset(cfg) {
  const marks = [
    Plot.frame({stroke: "#777", strokeWidth: 0.6, fill: "#fff"}),
    Plot.ruleX(cfg.peaks, {x: d => d[0], y1: 0, y2: d => d[1], stroke: "#111", strokeWidth: 0.7}),
    Plot.dot(cfg.peaks, {x: d => d[0], y: d => d[1], r: 0.8, fill: "#e0302f", stroke: null}),
    Plot.text(cfg.peaks, {x: d => d[0], y: d => d[1], text: d => d[0].toFixed(2), dy: -2.5, dx: cfg.ldx || 0, fontSize: 3.6, fill: "#222"}),
    Plot.axisY(cfg.yt, {tickSize: 1, tickPadding: 1, tickFormat: cfg.yf, fontSize: 3, color: "#444", label: null}),
    Plot.axisX(cfg.xt, {tickSize: 1, tickPadding: 1, tickFormat: cfg.xf, fontSize: 3, color: "#444", label: null}),
    Plot.text([cfg.tl], {frameAnchor: "top-left", text: d => d, lineAnchor: "top", dx: 1.5, dy: 1.5, fontSize: 3.3, lineHeight: 1.6, fill: "#222"}),
    Plot.text([cfg.num], {frameAnchor: "top-right", text: d => d, lineAnchor: "top", textAnchor: "end", dx: -1.5, dy: 1.5, fontSize: 4.5, fill: "#222"}),
    Plot.text([cfg.hdr], {frameAnchor: "top-left", text: d => d, textAnchor: "end", lineAnchor: "bottom", dx: -0.5, dy: -0.2, fontSize: 2.5, lineHeight: 1.15, fill: "#333"})
  ];
  const svg = Plot.plot({
    width: cfg.w, height: cfg.h, marginLeft: cfg.ml, marginRight: cfg.mr, marginTop: cfg.mt, marginBottom: cfg.mb,
    x: {domain: cfg.xd, label: null}, y: {domain: cfg.yd, label: null},
    style: {fontFamily: FONT, fontSize: "3px", overflow: "visible", background: "transparent"},
    marks
  });
  svg.style.left = cfg.left + "px"; svg.style.top = cfg.top + "px";
  root.appendChild(svg);
}
const f1 = d3.format(".1f");
inset({left:54, top:31, w:60, h:57, ml:14, mr:3, mt:7, mb:7, xd:[175,226], yd:[0,2.3], xt:[180,200,220], xf:d=>d, yt:[0,0.5,1,1.5,2], yf:f1, peaks:msPeak1, tl:"-MS, 7.4 min\n1", num:"", hdr:"Intens.\nx10⁶", ldx:1});
inset({left:224, top:20, w:65, h:40, ml:13, mr:10, mt:3, mb:4, xd:[320,600], yd:[0,1.9], xt:[400,600], xf:()=>"", yt:[0,0.5,1,1.5], yf:f1, peaks:msPeak2, tl:"-MS", num:"2", hdr:"Intens. x10⁶", ldx:4});
inset({left:224, top:57, w:65, h:40, ml:13, mr:10, mt:3, mb:4, xd:[320,600], yd:[0,1.3], xt:[400,600], xf:()=>"", yt:[0,0.5,1.0], yf:f1, peaks:msPeak3, tl:"-MS", num:"3", hdr:"x10⁶", ldx:1});
inset({left:224, top:94, w:65, h:44, ml:13, mr:10, mt:3, mb:8, xd:[320,600], yd:[0,4.8], xt:[400,600], xf:d=>d===600?"600 m/z":d, yt:[0,1,2,3,4], yf:d=>d, peaks:msPeak4, tl:"-MS", num:"4", hdr:"x10⁶", ldx:1});

// panel letters
const letters = [["a",2,9],["b",346,9],["c",2,196],["d",346,197],["e",2,377],["f",346,377],["g",2,555],["h",346,558]];
letters.forEach(([t,x,b]) => { const el = document.createElement("div"); el.className = "lt"; el.textContent = t; el.style.left = x + "px"; el.style.top = (b - 8.5) + "px"; root.appendChild(el); });
</script></body></html>
